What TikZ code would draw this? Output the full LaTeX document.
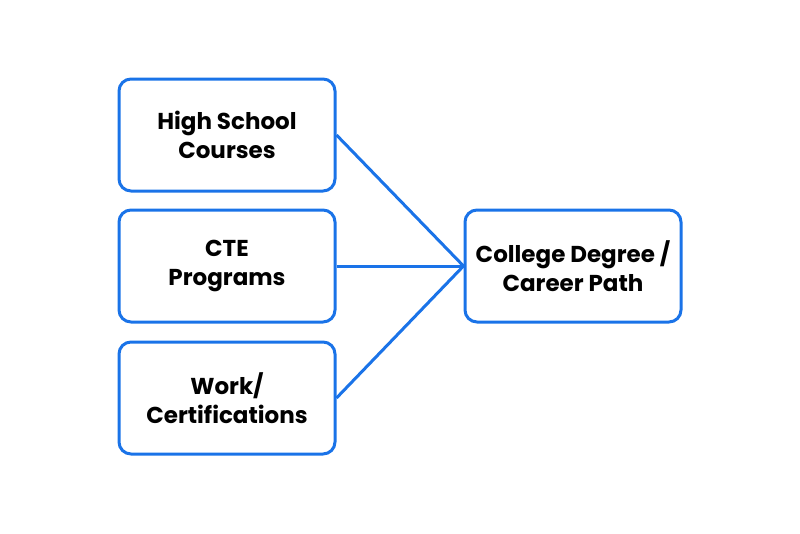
\documentclass[tikz,border=0pt]{standalone}
\usepackage{fontspec}
\setmainfont{Poppins}
\definecolor{pathblue}{HTML}{1A73E8}
\tikzset{
  stagebox/.style={draw=pathblue, line width=3pt, rounded corners=12pt,
    minimum width=216pt, minimum height=112pt, align=center,
    font=\fontsize{23}{29}\selectfont\bfseries},
  link/.style={draw=pathblue, line width=3pt}
}
\begin{document}
\begin{tikzpicture}[x=1pt,y=-1pt]
  \useasboundingbox (0,0) rectangle (800,533);
  \node[stagebox] (hs) at (227,135) {High School\\Courses};
  \node[stagebox] (cte) at (227,266) {CTE\\Programs};
  \node[stagebox] (work) at (227,398) {Work/\\Certifications};
  \node[stagebox] (goal) at (573,266) {College Degree /\\Career Path};
  \draw[link] (hs.east) -- (goal.west);
  \draw[link] (cte.east) -- (goal.west);
  \draw[link] (work.east) -- (goal.west);
\end{tikzpicture}
\end{document}
